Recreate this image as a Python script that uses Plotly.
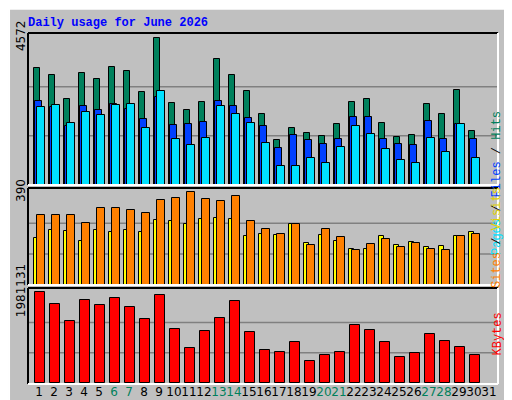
import plotly.graph_objects as go

days = list(range(1, 32))
day_labels = [str(d) for d in days]
weekend_days = [6, 7, 13, 14, 20, 21, 27, 28]

hits = [3642, 3425, 2680, 3487, 3301, 3673, 3549, 2897, 4572, 2556, 2339, 2587, 3921, 3425, 2928,
        2215, 1408, 1781, 1625, 1532, 1905, 2587, 2680, 1936, 1501, 1563, 2525, 2215, 2959, 1688, 0]
files = [2618, 2410, 1843, 2463, 2339, 2525, 2370, 2060, 2742, 1874, 1905, 1967, 2618, 2463, 2091,
         1843, 1160, 1563, 1408, 1284, 1439, 2122, 2122, 1439, 1284, 1253, 1998, 1439, 1905, 1439, 0]
pages = [2432, 2494, 1936, 2277, 2184, 2494, 2525, 1781, 2928, 1439, 1253, 1470, 2463, 2215, 1936,
         1315, 602, 602, 850, 695, 1191, 1843, 1594, 1129, 788, 695, 1470, 1036, 1905, 850, 0]
visits = [293, 293, 293, 260, 323, 323, 314, 302, 357, 365, 390, 361, 352, 373, 268,
          234, 213, 256, 167, 234, 201, 146, 171, 192, 159, 176, 150, 146, 205, 213, 0]
sites = [197, 230, 226, 184, 230, 222, 230, 222, 272, 268, 256, 277, 281, 277, 205,
         213, 209, 256, 176, 209, 184, 150, 150, 205, 167, 180, 159, 163, 205, 222, 0]
kbytes = [1981131, 1719000, 1348000, 1806000, 1697000, 1850000, 1653000, 1391000, 1916000, 1173000,
          758000, 1129000, 1413000, 1785000, 1107000, 714000, 671000, 889000, 474000, 605000,
          671000, 1260000, 1151000, 889000, 561000, 649000, 1064000, 911000, 780000, 605000, 0]

max1 = max(hits)
max2 = max(visits)
max3 = max(kbytes)

def bar(y, color, offset, width, yaxis):
    xs = [d for d, v in zip(days, y) if v > 0]
    ys = [v for v in y if v > 0]
    return go.Bar(x=xs, y=ys, offset=offset, width=width, marker=dict(color=color, line=dict(color="black", width=1)),
                  xaxis="x" if yaxis == "y" else "x" + yaxis[1:], yaxis=yaxis, showlegend=False, hoverinfo="skip")

fig = go.Figure()
fig.add_trace(bar(hits, "#00805c", -0.36, 0.45, "y"))
fig.add_trace(bar(files, "#0040ff", -0.27, 0.5, "y"))
fig.add_trace(bar(pages, "#00e0ff", -0.13, 0.51, "y"))
fig.add_trace(bar(sites, "#ffff00", -0.36, 0.36, "y2"))
fig.add_trace(bar(visits, "#ff8000", -0.13, 0.51, "y2"))
fig.add_trace(bar(kbytes, "#ff0000", -0.29, 0.67, "y3"))

xdom = [20 / 512, 490 / 512]
def py(p):
    return 1 - p / 400

xr = [0.27, 31.6]
mono = "Liberation Mono"
tick_text = [f'<span style="color:{"#00805c" if d in weekend_days else "black"}">{l}</span>'
             for d, l in zip(days, day_labels)]
common_x = dict(range=xr, domain=xdom, showgrid=False, zeroline=False, fixedrange=True,
                showline=False, ticks="", automargin=False, tickangle=0)
common_y = dict(showgrid=False, zeroline=False, tickangle=-90, ticks="", automargin=False,
                tickfont=dict(family="DejaVu Sans", size=12, color="black"))

fig.update_layout(
    width=512, height=400, margin=dict(l=0, r=0, t=0, b=0, autoexpand=False),
    paper_bgcolor="#c0c0c0", plot_bgcolor="#c0c0c0", barmode="overlay", bargap=0,
    xaxis=dict(**common_x, anchor="y", showticklabels=False),
    xaxis2=dict(**common_x, anchor="y2", showticklabels=False),
    xaxis3=dict(**common_x, anchor="y3", tickvals=days, ticktext=tick_text,
                tickfont=dict(family="DejaVu Sans", size=12, color="black")),
    yaxis=dict(**common_y, domain=[py(177), py(25)], range=[0, max1 * 152 / 147.4],
               tickvals=[max1], ticktext=[str(max1)]),
    yaxis2=dict(**common_y, domain=[py(277), py(180)], range=[0, max2 * 97 / 92.7],
                tickvals=[max2], ticktext=[str(max2)]),
    yaxis3=dict(**common_y, domain=[py(375), py(280)], range=[0, max3 * 95 / 90.7],
                tickvals=[max3], ticktext=[str(max3)]),
)

shapes = []
for yref, m in (("y", max1), ("y2", max2), ("y3", max3)):
    for f in (1 / 3, 2 / 3):
        shapes.append(dict(type="line", xref="paper", yref=yref, x0=xdom[0], x1=xdom[1], y0=m * f, y1=m * f,
                           line=dict(color="#808080", width=1.5), layer="below"))
for top, bot in ((25, 177), (180, 277), (280, 376)):
    shapes.append(dict(type="line", xref="paper", yref="paper", x0=xdom[0], x1=xdom[1], y0=py(top), y1=py(top),
                       line=dict(color="black", width=2)))
    shapes.append(dict(type="line", xref="paper", yref="paper", x0=xdom[0], x1=xdom[0], y0=py(top), y1=py(bot),
                       line=dict(color="black", width=2)))
    shapes.append(dict(type="line", xref="paper", yref="paper", x0=xdom[1], x1=xdom[1], y0=py(top), y1=py(bot),
                       line=dict(color="white", width=2)))
    shapes.append(dict(type="line", xref="paper", yref="paper", x0=xdom[0], x1=xdom[1], y0=py(bot), y1=py(bot),
                       line=dict(color="white", width=2)))
shapes += [
    dict(type="rect", xref="paper", yref="paper", x0=505 / 512, x1=1, y0=0, y1=1, line=dict(width=0), fillcolor="#808080"),
    dict(type="rect", xref="paper", yref="paper", x0=0, x1=1, y0=0, y1=py(396), line=dict(width=0), fillcolor="#808080"),
    dict(type="line", xref="paper", yref="paper", x0=0.002, x1=0.002, y0=0, y1=1, line=dict(color="white", width=2)),
    dict(type="line", xref="paper", yref="paper", x0=0, x1=1, y0=0.998, y1=0.998, line=dict(color="white", width=2)),
]
fig.update_layout(shapes=shapes)

ann = [
    dict(text="<b>Daily usage for June 2026</b>", x=18 / 512, y=py(15), xref="paper", yref="paper",
         xanchor="left", yanchor="middle", showarrow=False, font=dict(family=mono, size=12, color="#0000ff")),
    dict(text='<span style="color:#00e0ff">Pages</span> / <span style="color:#0040ff">Files</span> / <span style="color:#00805c">Hits</span>',
         x=498 / 512, y=py(101), xref="paper", yref="paper", textangle=-90, showarrow=False,
         font=dict(family=mono, size=12, color="black")),
    dict(text='<span style="color:#ff8000">Sites</span> / <span style="color:#e0d000">Visits</span>',
         x=498 / 512, y=py(230), xref="paper", yref="paper", textangle=-90, showarrow=False,
         font=dict(family=mono, size=12, color="black")),
    dict(text="KBytes", x=498 / 512, y=py(350), xref="paper", yref="paper", textangle=-90, showarrow=False,
         font=dict(family=mono, size=12, color="#ff0000")),
]
fig.update_layout(annotations=ann)
fig.write_html("out.html", config={"displayModeBar": False})
